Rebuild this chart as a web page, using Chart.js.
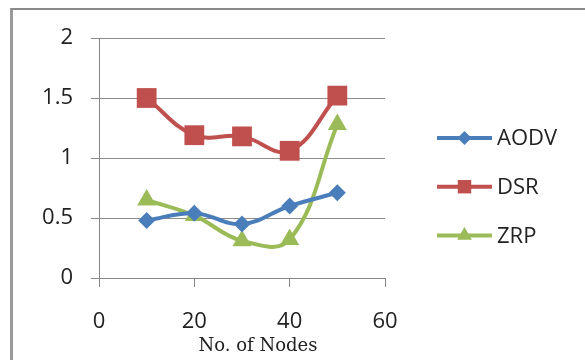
<!DOCTYPE html>
<html>
<head>
<meta charset="utf-8">
<script src="https://cdn.jsdelivr.net/npm/chart.js@4/dist/chart.umd.min.js"></script>
<style>
  html, body { margin: 0; padding: 0; background: #fff; }
  #wrap { position: relative; width: 585px; height: 360px; overflow: hidden; }
  #frame { position: absolute; left: 10px; top: 8px; width: 600px; height: 400px;
           border-top: 2px solid #8a8a8a; border-left: 3px solid #9a9a9a; box-sizing: border-box; }
  canvas { position: absolute; left: 0; top: 0; }
</style>
</head>
<body>
<div id="wrap">
  <div id="frame"></div>
  <canvas id="c" width="585" height="360"></canvas>
</div>
<script>
// Node counts on the x axis
const nodes = [10, 20, 30, 40, 50];
const seriesNames = ['AODV', 'DSR', 'ZRP'];
const aodv = [0.48, 0.54, 0.45, 0.60, 0.71];
const dsr  = [1.50, 1.19, 1.18, 1.06, 1.52];
const zrp  = [0.65, 0.52, 0.31, 0.32, 1.28];
const xTicks = [0, 20, 40, 60];
const yTicks = [0, 0.5, 1, 1.5, 2];
const xTitle = 'No. of Nodes';

const colors = ['#4a7ebb', '#c0504d', '#9bbb59'];
const styles = [
  { pointStyle: 'rectRot', radius: 8.5 },
  { pointStyle: 'rect', radius: 14 },
  { pointStyle: 'triangle', radius: 11 }
];

const toPoints = (ys) => nodes.map((x, i) => ({ x, y: ys[i] }));
const values = [aodv, dsr, zrp];

const datasets = values.map((ys, i) => ({
  label: seriesNames[i],
  data: toPoints(ys),
  borderColor: colors[i],
  backgroundColor: colors[i],
  borderWidth: 4,
  pointStyle: styles[i].pointStyle,
  pointRadius: styles[i].radius,
  pointHoverRadius: styles[i].radius,
  pointBorderWidth: 0,
  tension: 0.4
}));

const tickFont = { family: '"Open Sans"', size: 22 };
const textColor = '#222';

// Legend on the right: a short line with the series marker, then the name
const sideLegend = {
  id: 'sideLegend',
  afterDraw(chart) {
    const ctx = chart.ctx;
    const x0 = 437, x1 = 492, tx = 497;
    const y0 = 138, dy = 48.7;
    const legendSize = [7, 9.5, 8.5];
    chart.data.datasets.forEach((ds, i) => {
      const y = y0 + i * dy;
      ctx.save();
      ctx.strokeStyle = ds.borderColor;
      ctx.lineWidth = 4;
      ctx.beginPath();
      ctx.moveTo(x0, y);
      ctx.lineTo(x1, y);
      ctx.stroke();
      ctx.fillStyle = ds.backgroundColor;
      ctx.strokeStyle = ds.backgroundColor;
      Chart.helpers.drawPoint(ctx, {
        pointStyle: ds.pointStyle, radius: legendSize[i], rotation: 0, borderWidth: 0
      }, (x0 + x1) / 2, y);
      ctx.fillStyle = textColor;
      ctx.font = '22px "Open Sans"';
      ctx.textAlign = 'left';
      ctx.textBaseline = 'middle';
      ctx.fillText(ds.label, tx, y + 1);
      ctx.restore();
    });
  }
};

// Axis title under the x tick labels
const axisTitle = {
  id: 'axisTitle',
  afterDraw(chart) {
    const ctx = chart.ctx;
    const a = chart.chartArea;
    ctx.save();
    ctx.fillStyle = textColor;
    ctx.font = '18px "DejaVu Serif"';
    ctx.textAlign = 'center';
    ctx.textBaseline = 'middle';
    ctx.fillText(xTitle, (a.left + a.right) / 2 + 16, 346);
    ctx.restore();
  }
};

new Chart(document.getElementById('c'), {
  type: 'line',
  data: { datasets },
  options: {
    responsive: false,
    animation: false,
    layout: { padding: { top: 38, right: 200, left: 0, bottom: 0 } },
    plugins: { legend: { display: false }, tooltip: { enabled: false } },
    scales: {
      x: {
        type: 'linear',
        min: 0, max: 60,
        afterBuildTicks: (s) => { s.ticks = xTicks.map(v => ({ value: v })); },
        afterFit: (s) => { s.height = 82; },
        grid: { drawOnChartArea: false, drawTicks: true, tickLength: 9, color: '#868686' },
        border: { color: '#868686', width: 1 },
        ticks: { font: tickFont, color: textColor, padding: 22, maxRotation: 0,
                 callback: (v) => String(v) }
      },
      y: {
        min: 0, max: 2,
        afterBuildTicks: (s) => { s.ticks = yTicks.map(v => ({ value: v })); },
        afterFit: (s) => { s.width = 99; },
        grid: { color: '#8c8c8c', tickLength: 8, lineWidth: 1 },
        border: { color: '#868686', width: 1 },
        ticks: { font: tickFont, color: textColor, padding: 18,
                 callback: (v) => String(v) }
      }
    }
  },
  plugins: [sideLegend, axisTitle]
});
</script>
</body>
</html>
